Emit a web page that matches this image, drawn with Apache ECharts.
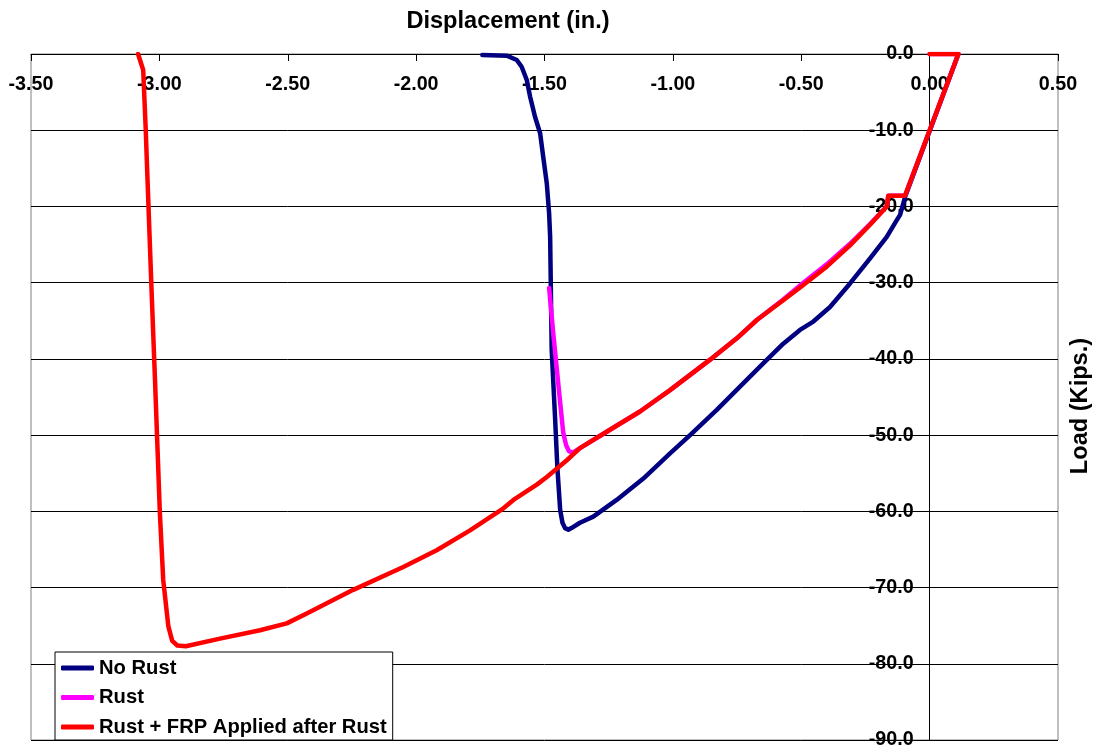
<!DOCTYPE html>
<html>
<head>
<meta charset="utf-8">
<script src="https://cdn.jsdelivr.net/npm/echarts@6/dist/echarts.min.js"></script>
<style>
html,body{margin:0;padding:0;background:#fff;}
#chart{width:1099px;height:751px;}
</style>
</head>
<body>
<div id="chart"></div>
<script>
// Series names
var seriesNames = ['No Rust', 'Rust', 'Rust + FRP Applied after Rust'];

// No Rust
var noRustDisp = [0.112, -0.096, -0.115, -0.128, -0.167, -0.232, -0.310, -0.388, -0.453, -0.505, -0.570, -0.648, -0.726, -0.829, -0.933, -1.011, -1.115, -1.219, -1.310, -1.362, -1.395, -1.407, -1.420, -1.430, -1.439, -1.450, -1.459, -1.472, -1.478, -1.482, -1.491, -1.505, -1.517, -1.537, -1.556, -1.569, -1.589, -1.608, -1.647, -1.742];
var noRustLoad = [0, -18.8, -21.1, -21.8, -24.0, -26.8, -30.1, -33.2, -35.1, -36.2, -38.0, -40.6, -43.2, -46.7, -50.0, -52.4, -55.7, -58.5, -60.7, -61.5, -62.2, -62.4, -62.2, -61.5, -59.8, -54.2, -47.6, -38.8, -24.0, -20.9, -17.0, -13.5, -10.4, -8.23, -5.60, -3.41, -1.67, -0.79, -0.22, -0.13];

// Rust
var rustDisp = [0, 0.112, -0.096, -0.161, -0.167, -0.232, -0.310, -0.401, -0.492, -0.570, -0.673, -0.751, -0.855, -1.011, -1.128, -1.245, -1.362, -1.390, -1.405, -1.416, -1.427, -1.440, -1.466, -1.482];
var rustLoad = [0, 0, -18.6, -18.6, -20.0, -22.3, -24.9, -27.6, -30.0, -32.2, -34.9, -37.3, -40.1, -44.1, -46.9, -49.3, -51.7, -52.3, -52.1, -51.3, -49.7, -45.4, -36.6, -30.7];

// Rust + FRP Applied after Rust
var frpDisp = [0, 0.112, -0.096, -0.161, -0.167, -0.232, -0.310, -0.401, -0.492, -0.570, -0.673, -0.751, -0.855, -1.011, -1.128, -1.245, -1.362, -1.413, -1.491, -1.530, -1.621, -1.660, -1.790, -1.920, -2.050, -2.245, -2.426, -2.504, -2.608, -2.764, -2.897, -2.930, -2.950, -2.965, -2.985, -2.998, -3.017, -3.029, -3.049, -3.053, -3.063, -3.083];
var frpLoad = [0, 0, -18.6, -18.6, -20.0, -22.4, -25.1, -27.9, -30.3, -32.3, -34.9, -37.3, -40.1, -44.1, -46.9, -49.3, -51.7, -53.3, -55.5, -56.5, -58.5, -59.6, -62.5, -65.1, -67.3, -70.3, -73.4, -74.7, -75.6, -76.7, -77.7, -77.6, -77.0, -75.1, -69.0, -60.3, -42.8, -32.3, -13.9, -10.0, -2.1, 0];

var colors = ['#000080', '#FF00FF', '#FF0000'];

function pairs(xs, ys) {
  return xs.map(function (x, i) { return [x, ys[i]]; });
}

var FONT = '"Liberation Sans", Arial, sans-serif';
var chart = echarts.init(document.getElementById('chart'), null, {renderer: 'canvas'});

var allData = [pairs(noRustDisp, noRustLoad), pairs(rustDisp, rustLoad), pairs(frpDisp, frpLoad)];

var GRID_LEFT = 31, GRID_W = 1027, X_MIN = -3.5, X_MAX = 0.5;
// pixel offset of the x = 0 line from the grid's left edge
var zeroOffset = GRID_W * (0 - X_MIN) / (X_MAX - X_MIN);

var option = {
  animation: false,
  backgroundColor: '#ffffff',
  grid: {
    left: GRID_LEFT, top: 54, width: GRID_W, height: 686,
    outerBoundsMode: 'none', containLabel: false,
    show: true, borderColor: '#808080', borderWidth: 1, backgroundColor: 'transparent'
  },
  xAxis: {
    type: 'value',
    position: 'top',
    min: X_MIN, max: X_MAX, interval: 0.5,
    axisLine: {show: true, onZero: false, lineStyle: {color: '#000', width: 1}},
    axisTick: {show: true, inside: true, length: 7, lineStyle: {color: '#000'}},
    axisLabel: {
      inside: true, margin: 21,
      color: '#000', fontFamily: FONT, fontWeight: 'bold', fontSize: 19.7,
      formatter: function (v) { return v.toFixed(2); }
    },
    splitLine: {show: false}
  },
  yAxis: {
    type: 'value',
    min: -90, max: 0, interval: 10,
    position: 'left',
    offset: -zeroOffset,
    axisLine: {show: true, onZero: false, lineStyle: {color: '#000', width: 1}},
    axisTick: {show: true, inside: false, length: 6, lineStyle: {color: '#000'}},
    axisLabel: {
      margin: 16,
      color: '#000', fontFamily: FONT, fontWeight: 'bold', fontSize: 19.7,
      formatter: function (v) { return v.toFixed(1); }
    },
    splitLine: {show: true, lineStyle: {color: '#000', width: 1}}
  },
  legend: {
    orient: 'vertical',
    left: 55, top: 652,
    backgroundColor: '#ffffff',
    borderColor: '#000', borderWidth: 1,
    padding: [6, 6, 3, 6],
    itemGap: 9.5,
    itemWidth: 33, itemHeight: 5,
    itemTextGap: 3,
    icon: 'roundRect',
    textStyle: {color: '#000', fontFamily: FONT, fontWeight: 'bold', fontSize: 20.2, lineHeight: 20},
    data: seriesNames
  },
  graphic: [
    {
      type: 'text', x: 508, y: 21,
      style: {
        text: 'Displacement (in.)', fill: '#000',
        font: 'bold 23.6px ' + FONT, textAlign: 'center', textVerticalAlign: 'middle'
      }
    },
    {
      type: 'text', x: 1080, y: 406, rotation: Math.PI / 2,
      style: {
        text: 'Load (Kips.)', fill: '#000',
        font: 'bold 23.6px ' + FONT, textAlign: 'center', textVerticalAlign: 'middle'
      }
    }
  ],
  series: seriesNames.map(function (name, i) {
    return {
      name: name,
      type: 'line',
      data: allData[i],
      showSymbol: false,
      symbol: 'none',
      smooth: false,
      color: colors[i],
      lineStyle: {color: colors[i], width: 4.5, cap: 'round', join: 'round'},
      z: 2 + i
    };
  })
};
chart.setOption(option);
</script>
</body>
</html>
